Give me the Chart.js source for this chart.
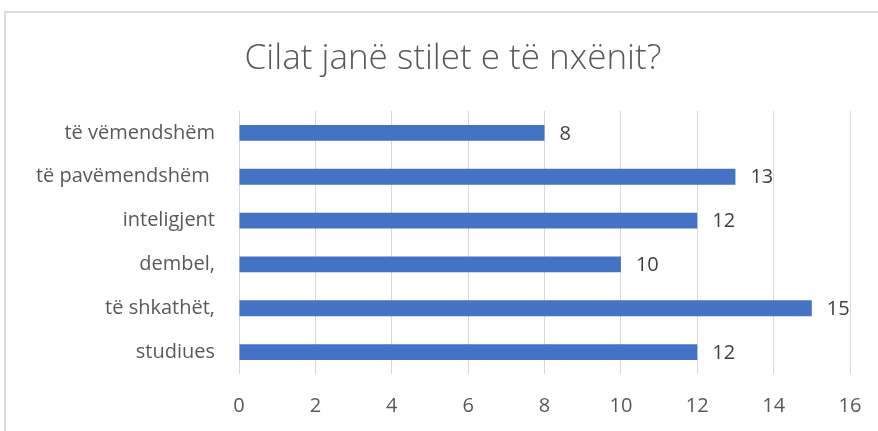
<!DOCTYPE html>
<html>
<head>
<meta charset="utf-8">
<script src="https://cdn.jsdelivr.net/npm/chart.js@4"></script>
<style>
  html, body { margin: 0; padding: 0; background: #fff; overflow: hidden; }
  #wrap { position: relative; width: 878px; height: 431px; }
  #frame { position: absolute; left: 4px; top: 11px; width: 900px; height: 440px; border: 2px solid #dcdcdc; box-sizing: border-box; pointer-events: none; }
  canvas { position: absolute; left: 0; top: 0; }
</style>
</head>
<body>
<div id="wrap">
  <canvas id="stiletChart" width="878" height="431"></canvas>
  <div id="frame"></div>
</div>
<script>
const titulli = 'Cilat janë stilet e të nxënit?';
const kategorite = ['të vëmendshëm', 'të pavëmendshëm ', 'inteligjent', 'dembel,', 'të shkathët,', 'studiues'];
const vlerat = [8, 13, 12, 10, 15, 12];
const boshtiX = { min: 0, max: 16, hapi: 2 };

const tekstGri = '#595959';
const fontBaze = "'Open Sans', 'Liberation Sans', sans-serif";

// titulli qendrohet mbi kornizën e grafikut, jo mbi zonën e vizatimit
const titulliKornizes = {
    id: 'titulliKornizes',
    afterDraw(chart) {
        const ctx = chart.ctx;
        ctx.save();
        ctx.fillStyle = tekstGri;
        ctx.font = '300 35px ' + fontBaze;
        ctx.textAlign = 'center';
        ctx.textBaseline = 'middle';
        ctx.fillText(titulli, 453, 59);
        ctx.restore();
    }
};

// vizaton vlerën në fund të çdo shiriti
const etiketatVlerave = {
    id: 'etiketatVlerave',
    afterDatasetsDraw(chart) {
        const ctx = chart.ctx;
        const meta = chart.getDatasetMeta(0);
        ctx.save();
        ctx.fillStyle = '#404040';
        ctx.font = '20px ' + fontBaze;
        ctx.textAlign = 'left';
        ctx.textBaseline = 'middle';
        meta.data.forEach(function(bar, i) {
            ctx.fillText(String(vlerat[i]), bar.x + 15, bar.y + 1);
        });
        ctx.restore();
    }
};

new Chart(document.getElementById('stiletChart'), {
    type: 'bar',
    data: {
        labels: kategorite,
        datasets: [{
            data: vlerat,
            backgroundColor: '#4472C4',
            borderColor: '#4472C4',
            borderWidth: 0,
            barPercentage: 0.72,
            categoryPercentage: 0.5
        }]
    },
    options: {
        indexAxis: 'y',
        responsive: false,
        animation: false,
        layout: {
            padding: { top: 111, right: 28, bottom: 0, left: 0 }
        },
        plugins: {
            legend: { display: false },
            tooltip: { enabled: false },
            title: { display: false }
        },
        scales: {
            x: {
                min: boshtiX.min,
                max: boshtiX.max,
                afterFit: function(scale) {
                    scale.height = 57;
                    scale.paddingLeft = 0;
                    scale.paddingRight = 0;
                },
                ticks: {
                    stepSize: boshtiX.hapi,
                    color: tekstGri,
                    font: { family: fontBaze, size: 20 },
                    padding: 20
                },
                grid: {
                    color: '#d9d9d9',
                    drawTicks: false
                },
                border: { display: false }
            },
            y: {
                afterFit: function(scale) {
                    scale.width = 239;
                    scale.paddingTop = 0;
                    scale.paddingBottom = 0;
                },
                ticks: {
                    color: tekstGri,
                    font: { family: fontBaze, size: 20 },
                    padding: 24
                },
                grid: { display: false, drawTicks: false },
                border: { display: false }
            }
        }
    },
    plugins: [etiketatVlerave, titulliKornizes]
});
</script>
</body>
</html>
